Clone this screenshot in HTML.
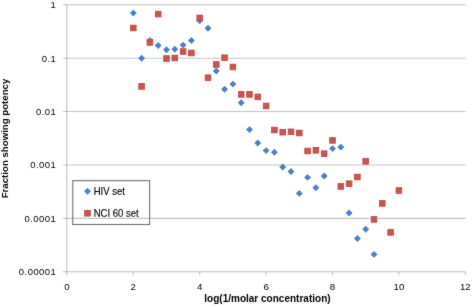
<!DOCTYPE html>
<html><head><meta charset="utf-8"><title>chart</title>
<style>
html,body{margin:0;padding:0;background:#fff;}
body{width:472px;height:305px;overflow:hidden;}
svg{display:block;font-family:"Liberation Sans", sans-serif;}
</style></head>
<body>
<svg width="472" height="305" viewBox="0 0 472 305">
<defs><filter id="soft" filterUnits="userSpaceOnUse" x="0" y="0" width="472" height="305"><feConvolveMatrix order="3" kernelMatrix="1 2 1 2 28 2 1 2 1" preserveAlpha="false"/></filter></defs>
<g filter="url(#soft)">
<line x1="63" y1="4.75" x2="465.5" y2="4.75" stroke="#c3c3c3" stroke-width="1.05"/>
<line x1="63" y1="58.15" x2="465.5" y2="58.15" stroke="#c3c3c3" stroke-width="1.05"/>
<line x1="63" y1="111.55" x2="465.5" y2="111.55" stroke="#c3c3c3" stroke-width="1.05"/>
<line x1="63" y1="164.95" x2="465.5" y2="164.95" stroke="#c3c3c3" stroke-width="1.05"/>
<line x1="63" y1="218.35" x2="465.5" y2="218.35" stroke="#c3c3c3" stroke-width="1.05"/>
<line x1="63" y1="271.75" x2="465.5" y2="271.75" stroke="#bdbdbd" stroke-width="1.05"/>
<line x1="66.8" y1="4.15" x2="66.8" y2="274.95" stroke="#bdbdbd" stroke-width="1.05"/>
<line x1="133.30" y1="271.75" x2="133.30" y2="274.95" stroke="#bdbdbd" stroke-width="1.05"/>
<line x1="199.70" y1="271.75" x2="199.70" y2="274.95" stroke="#bdbdbd" stroke-width="1.05"/>
<line x1="266.10" y1="271.75" x2="266.10" y2="274.95" stroke="#bdbdbd" stroke-width="1.05"/>
<line x1="332.50" y1="271.75" x2="332.50" y2="274.95" stroke="#bdbdbd" stroke-width="1.05"/>
<line x1="398.90" y1="271.75" x2="398.90" y2="274.95" stroke="#bdbdbd" stroke-width="1.05"/>
<line x1="465.30" y1="271.75" x2="465.30" y2="274.95" stroke="#bdbdbd" stroke-width="1.05"/>
<text x="55.9" y="8.20" font-size="9.5" textLength="5.70" lengthAdjust="spacing" text-anchor="end" fill="#000" >1</text>
<text x="55.9" y="61.60" font-size="9.5" textLength="14.26" lengthAdjust="spacing" text-anchor="end" fill="#000" >0.1</text>
<text x="55.9" y="115.00" font-size="9.5" textLength="19.97" lengthAdjust="spacing" text-anchor="end" fill="#000" >0.01</text>
<text x="55.9" y="168.40" font-size="9.5" textLength="25.67" lengthAdjust="spacing" text-anchor="end" fill="#000" >0.001</text>
<text x="55.9" y="221.80" font-size="9.5" textLength="31.38" lengthAdjust="spacing" text-anchor="end" fill="#000" >0.0001</text>
<text x="55.9" y="275.20" font-size="9.5" textLength="37.08" lengthAdjust="spacing" text-anchor="end" fill="#000" >0.00001</text>
<text x="66.90" y="289.7" font-size="9.7" text-anchor="middle" fill="#000" >0</text>
<text x="133.30" y="289.7" font-size="9.7" text-anchor="middle" fill="#000" >2</text>
<text x="199.70" y="289.7" font-size="9.7" text-anchor="middle" fill="#000" >4</text>
<text x="266.10" y="289.7" font-size="9.7" text-anchor="middle" fill="#000" >6</text>
<text x="332.50" y="289.7" font-size="9.7" text-anchor="middle" fill="#000" >8</text>
<text x="398.90" y="289.7" font-size="9.7" text-anchor="middle" fill="#000" >10</text>
<text x="465.30" y="289.7" font-size="9.7" text-anchor="middle" fill="#000" >12</text>
<text x="267.45" y="302.2" font-size="10.6" textLength="126.3" lengthAdjust="spacingAndGlyphs" font-weight="bold" text-anchor="middle" fill="#000">log(1/molar concentration)</text>
<text transform="translate(8.2,138.5) rotate(-90)" x="0" y="0" font-size="9.66" font-weight="bold" text-anchor="middle" fill="#000">Fraction showing potency</text>
<path d="M133.30 9.55L136.75 13.00L133.30 16.45L129.85 13.00Z" fill="#4D80C2"/>
<path d="M141.60 54.85L145.05 58.30L141.60 61.75L138.15 58.30Z" fill="#4D80C2"/>
<path d="M149.90 36.95L153.35 40.40L149.90 43.85L146.45 40.40Z" fill="#4D80C2"/>
<path d="M158.20 42.05L161.65 45.50L158.20 48.95L154.75 45.50Z" fill="#4D80C2"/>
<path d="M166.50 46.35L169.95 49.80L166.50 53.25L163.05 49.80Z" fill="#4D80C2"/>
<path d="M174.80 45.85L178.25 49.30L174.80 52.75L171.35 49.30Z" fill="#4D80C2"/>
<path d="M183.10 41.65L186.55 45.10L183.10 48.55L179.65 45.10Z" fill="#4D80C2"/>
<path d="M191.40 37.05L194.85 40.50L191.40 43.95L187.95 40.50Z" fill="#4D80C2"/>
<path d="M199.70 17.25L203.15 20.70L199.70 24.15L196.25 20.70Z" fill="#4D80C2"/>
<path d="M208.00 24.75L211.45 28.20L208.00 31.65L204.55 28.20Z" fill="#4D80C2"/>
<path d="M216.30 67.55L219.75 71.00L216.30 74.45L212.85 71.00Z" fill="#4D80C2"/>
<path d="M224.60 85.85L228.05 89.30L224.60 92.75L221.15 89.30Z" fill="#4D80C2"/>
<path d="M232.90 80.65L236.35 84.10L232.90 87.55L229.45 84.10Z" fill="#4D80C2"/>
<path d="M241.20 99.25L244.65 102.70L241.20 106.15L237.75 102.70Z" fill="#4D80C2"/>
<path d="M249.50 126.15L252.95 129.60L249.50 133.05L246.05 129.60Z" fill="#4D80C2"/>
<path d="M257.80 139.55L261.25 143.00L257.80 146.45L254.35 143.00Z" fill="#4D80C2"/>
<path d="M266.10 147.15L269.55 150.60L266.10 154.05L262.65 150.60Z" fill="#4D80C2"/>
<path d="M274.40 148.75L277.85 152.20L274.40 155.65L270.95 152.20Z" fill="#4D80C2"/>
<path d="M282.70 163.55L286.15 167.00L282.70 170.45L279.25 167.00Z" fill="#4D80C2"/>
<path d="M291.00 168.05L294.45 171.50L291.00 174.95L287.55 171.50Z" fill="#4D80C2"/>
<path d="M299.30 189.95L302.75 193.40L299.30 196.85L295.85 193.40Z" fill="#4D80C2"/>
<path d="M307.60 173.95L311.05 177.40L307.60 180.85L304.15 177.40Z" fill="#4D80C2"/>
<path d="M315.90 184.25L319.35 187.70L315.90 191.15L312.45 187.70Z" fill="#4D80C2"/>
<path d="M324.20 172.55L327.65 176.00L324.20 179.45L320.75 176.00Z" fill="#4D80C2"/>
<path d="M332.50 145.15L335.95 148.60L332.50 152.05L329.05 148.60Z" fill="#4D80C2"/>
<path d="M340.80 143.65L344.25 147.10L340.80 150.55L337.35 147.10Z" fill="#4D80C2"/>
<path d="M349.10 209.55L352.55 213.00L349.10 216.45L345.65 213.00Z" fill="#4D80C2"/>
<path d="M357.40 235.05L360.85 238.50L357.40 241.95L353.95 238.50Z" fill="#4D80C2"/>
<path d="M365.70 225.85L369.15 229.30L365.70 232.75L362.25 229.30Z" fill="#4D80C2"/>
<path d="M374.00 250.95L377.45 254.40L374.00 257.85L370.55 254.40Z" fill="#4D80C2"/>
<rect x="130.50" y="25.20" width="5.60" height="5.60" fill="#C65753" stroke="#C23C3A" stroke-width="0.8"/>
<rect x="138.80" y="83.60" width="5.60" height="5.60" fill="#C65753" stroke="#C23C3A" stroke-width="0.8"/>
<rect x="147.10" y="39.60" width="5.60" height="5.60" fill="#C65753" stroke="#C23C3A" stroke-width="0.8"/>
<rect x="155.40" y="11.30" width="5.60" height="5.60" fill="#C65753" stroke="#C23C3A" stroke-width="0.8"/>
<rect x="163.70" y="55.70" width="5.60" height="5.60" fill="#C65753" stroke="#C23C3A" stroke-width="0.8"/>
<rect x="172.00" y="55.20" width="5.60" height="5.60" fill="#C65753" stroke="#C23C3A" stroke-width="0.8"/>
<rect x="180.30" y="48.70" width="5.60" height="5.60" fill="#C65753" stroke="#C23C3A" stroke-width="0.8"/>
<rect x="188.60" y="50.20" width="5.60" height="5.60" fill="#C65753" stroke="#C23C3A" stroke-width="0.8"/>
<rect x="196.90" y="15.10" width="5.60" height="5.60" fill="#C65753" stroke="#C23C3A" stroke-width="0.8"/>
<rect x="205.20" y="74.90" width="5.60" height="5.60" fill="#C65753" stroke="#C23C3A" stroke-width="0.8"/>
<rect x="213.50" y="61.70" width="5.60" height="5.60" fill="#C65753" stroke="#C23C3A" stroke-width="0.8"/>
<rect x="221.80" y="54.90" width="5.60" height="5.60" fill="#C65753" stroke="#C23C3A" stroke-width="0.8"/>
<rect x="230.10" y="64.20" width="5.60" height="5.60" fill="#C65753" stroke="#C23C3A" stroke-width="0.8"/>
<rect x="238.40" y="91.60" width="5.60" height="5.60" fill="#C65753" stroke="#C23C3A" stroke-width="0.8"/>
<rect x="246.70" y="91.60" width="5.60" height="5.60" fill="#C65753" stroke="#C23C3A" stroke-width="0.8"/>
<rect x="255.00" y="94.10" width="5.60" height="5.60" fill="#C65753" stroke="#C23C3A" stroke-width="0.8"/>
<rect x="263.30" y="103.20" width="5.60" height="5.60" fill="#C65753" stroke="#C23C3A" stroke-width="0.8"/>
<rect x="271.60" y="127.20" width="5.60" height="5.60" fill="#C65753" stroke="#C23C3A" stroke-width="0.8"/>
<rect x="279.90" y="129.40" width="5.60" height="5.60" fill="#C65753" stroke="#C23C3A" stroke-width="0.8"/>
<rect x="288.20" y="129.00" width="5.60" height="5.60" fill="#C65753" stroke="#C23C3A" stroke-width="0.8"/>
<rect x="296.50" y="130.20" width="5.60" height="5.60" fill="#C65753" stroke="#C23C3A" stroke-width="0.8"/>
<rect x="304.80" y="148.20" width="5.60" height="5.60" fill="#C65753" stroke="#C23C3A" stroke-width="0.8"/>
<rect x="313.10" y="147.50" width="5.60" height="5.60" fill="#C65753" stroke="#C23C3A" stroke-width="0.8"/>
<rect x="321.40" y="150.90" width="5.60" height="5.60" fill="#C65753" stroke="#C23C3A" stroke-width="0.8"/>
<rect x="329.70" y="137.60" width="5.60" height="5.60" fill="#C65753" stroke="#C23C3A" stroke-width="0.8"/>
<rect x="338.00" y="183.60" width="5.60" height="5.60" fill="#C65753" stroke="#C23C3A" stroke-width="0.8"/>
<rect x="346.30" y="180.90" width="5.60" height="5.60" fill="#C65753" stroke="#C23C3A" stroke-width="0.8"/>
<rect x="354.60" y="174.20" width="5.60" height="5.60" fill="#C65753" stroke="#C23C3A" stroke-width="0.8"/>
<rect x="362.90" y="158.50" width="5.60" height="5.60" fill="#C65753" stroke="#C23C3A" stroke-width="0.8"/>
<rect x="371.20" y="216.60" width="5.60" height="5.60" fill="#C65753" stroke="#C23C3A" stroke-width="0.8"/>
<rect x="379.50" y="200.60" width="5.60" height="5.60" fill="#C65753" stroke="#C23C3A" stroke-width="0.8"/>
<rect x="387.80" y="229.60" width="5.60" height="5.60" fill="#C65753" stroke="#C23C3A" stroke-width="0.8"/>
<rect x="396.10" y="187.70" width="5.60" height="5.60" fill="#C65753" stroke="#C23C3A" stroke-width="0.8"/>
<rect x="72.8" y="180.65" width="76.8" height="43.85" fill="none" stroke="#707070" stroke-width="1.1"/>
<path d="M87.50 187.85L90.95 191.30L87.50 194.75L84.05 191.30Z" fill="#4D80C2"/>
<rect x="84.70" y="210.50" width="5.60" height="5.60" fill="#C65753" stroke="#C23C3A" stroke-width="0.8"/>
<text x="93.7" y="194.7" font-size="10.2" textLength="31.15" lengthAdjust="spacingAndGlyphs" fill="#000" stroke="#000" stroke-width="0.15">HIV set</text>
<text x="93.7" y="216.6" font-size="10.2" textLength="44.9" lengthAdjust="spacingAndGlyphs" fill="#000" stroke="#000" stroke-width="0.15">NCI 60 set</text>
</g>
</svg>
</body></html>
